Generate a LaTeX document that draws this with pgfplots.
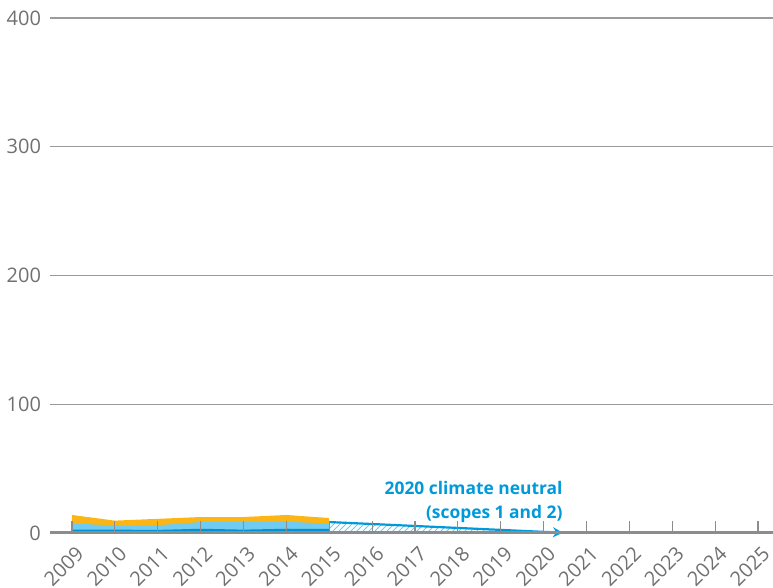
\documentclass[border=0pt]{standalone}
\usepackage{fontspec}
\setmainfont{Open Sans}
\usepackage{pgfplots}
\pgfplotsset{compat=1.18}
\usetikzlibrary{patterns,arrows.meta}
\definecolor{corange}{HTML}{FBB616}
\definecolor{clight}{HTML}{70CBF2}
\definecolor{cdark}{HTML}{0092D2}
\definecolor{cblue}{HTML}{009ADA}
\definecolor{cgrid}{HTML}{9B9B9B}
\definecolor{caxis}{HTML}{8C8C8C}
\definecolor{ctext}{HTML}{707070}
\begin{document}
\begin{tikzpicture}
\begin{axis}[
  at={(0,0)}, anchor=south west,
  scale only axis, width=361.5pt, height=257.5pt,
  xmin=2008.487, xmax=2025.35, ymin=0, ymax=400,
  xtick={2009,2010,...,2025},
  ytick={0,100,200,300,400},
  /pgf/number format/assume math mode=true,
  /pgf/number format/1000 sep={},
  axis x line*=bottom, axis y line*=left,
  y axis line style={draw=none},
  x axis line style={draw=caxis, line width=1.5pt},
  xtick align=inside,
  major tick length=6pt,
  xtick style={draw=caxis, line width=0.6pt},
  ytick style={draw=none},
  ymajorgrids, grid style={draw=cgrid, line width=0.6pt},
  tick label style={text=ctext, font=\fontsize{10}{12}\selectfont},
  xticklabel style={rotate=45, anchor=north east, inner sep=1pt, xshift=-2pt, yshift=-4pt},
  yticklabel style={xshift=-1pt},
  axis on top,
  clip=false,
]
% cumulative totals (orange = total)
\addplot[fill=corange, draw=none] coordinates {
 (2009,14.0) (2010,9.6) (2011,11.0) (2012,12.4) (2013,12.4) (2014,14.0) (2015,11.6)} \closedcycle;
\addplot[fill=clight, draw=none] coordinates {
 (2009,7.5) (2010,5.7) (2011,6.0) (2012,8.5) (2013,8.5) (2014,8.8) (2015,7.2)} \closedcycle;
\addplot[fill=cdark, draw=none] coordinates {
 (2009,2.6) (2010,2.6) (2011,2.4) (2012,3.3) (2013,2.6) (2014,3.3) (2015,3.2)} \closedcycle;
% hatched target path
\addplot[draw=none, pattern=north east lines, pattern color=clight] coordinates {
 (2015,8.5) (2020.45,0)} \closedcycle;
\addplot[draw=cblue, line width=1.1pt, -{Stealth[length=5pt,width=5pt]}] coordinates {
 (2015,8.5) (2020.45,0.2)};
\node[anchor=south east, align=right, text=cblue, inner sep=0pt,
  font=\fontsize{8.7}{12}\selectfont\bfseries] at (axis cs:2020.45,8)
  {2020 climate neutral\\(scopes 1 and 2)};
\end{axis}
\pgfresetboundingbox
\useasboundingbox (-25pt,-27.5pt) rectangle (361.5pt,266.5pt);
\end{tikzpicture}
\end{document}
